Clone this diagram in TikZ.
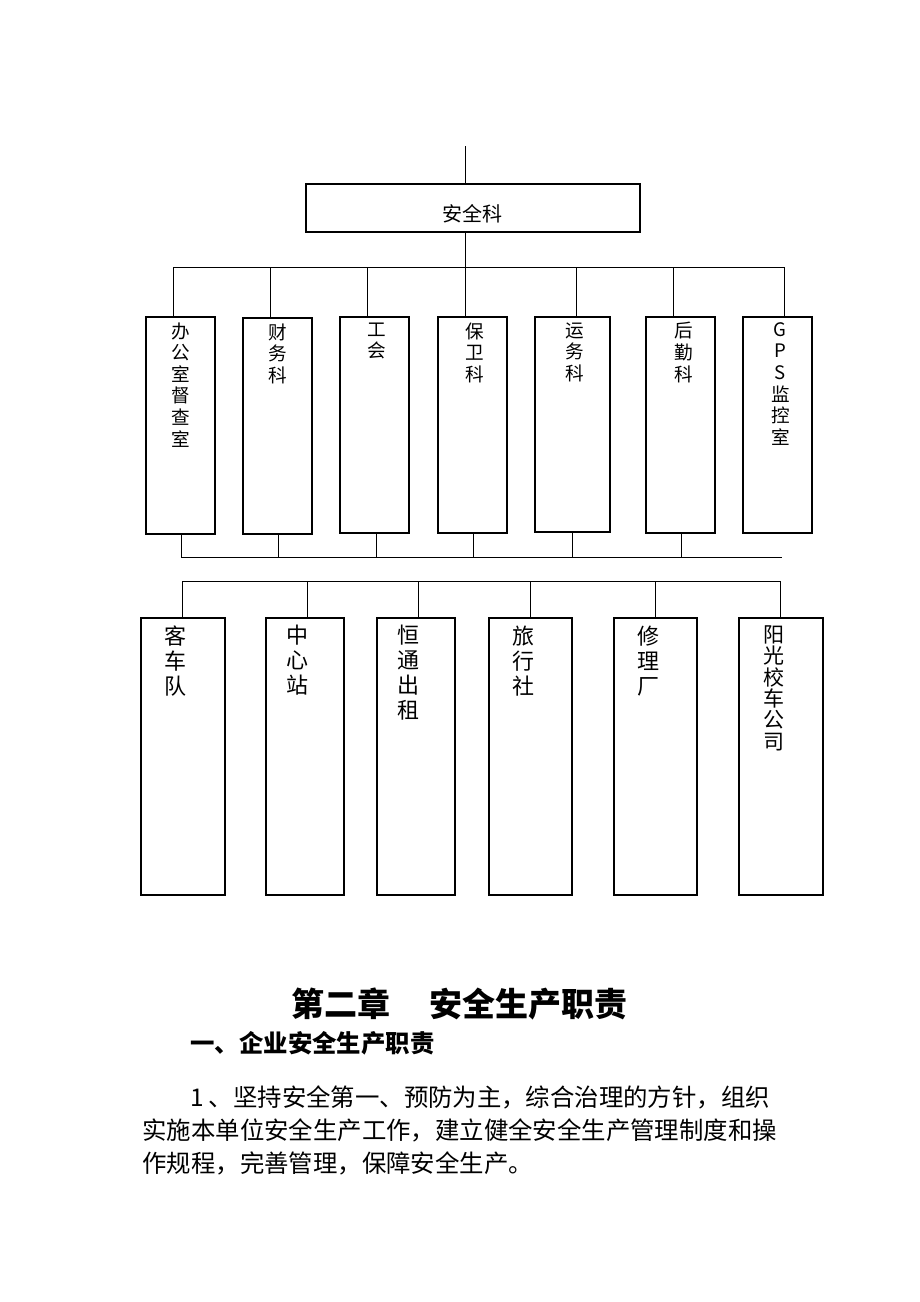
\documentclass[tikz,border=0pt]{standalone}
\usepackage{fontspec}
\setmainfont{Noto Sans CJK SC}

\begin{document}
\begin{tikzpicture}[x=0.5pt, y=-0.5pt, line width=0.5pt,
  unit/.style={draw, line width=0.8pt, anchor=north west, inner sep=0pt},
  upper/.style={unit, minimum width=34.5pt, minimum height=108pt},
  lower/.style={unit, minimum height=138.5pt},
  vtop/.style={font=\fontsize{9.3}{10.8}\selectfont, align=center, inner sep=0pt, below=3pt},
  vbot/.style={font=\fontsize{11}{12.5}\selectfont, align=center, inner sep=0pt, below=4pt, xshift=-3.5pt},
  body/.style={font=\fontsize{12.2}{15}\selectfont, anchor=west, inner sep=0pt}]
\useasboundingbox (0,0) rectangle (920,1302);

% top
\coordinate (in) at (465,146);
\node[unit, minimum width=167pt, minimum height=24pt] (aqk) at (305,183) {};
\node[font=\fontsize{10}{11}\selectfont, yshift=-3pt] at (aqk.center) {安全科};
\draw (in) -- (in |- aqk.north);

% first row of departments
\node[upper, minimum height=108.5pt] (b1) at (145,316) {};
\node[upper] (b2) at (242,317) {};
\node[upper] (b3) at (339,316) {};
\node[upper] (b4) at (437,316) {};
\node[upper, minimum width=37.5pt, minimum height=107.5pt] (b5) at (534,316) {};
\node[upper] (b6) at (645,316) {};
\node[upper] (b7) at (742,316) {};

\node[vtop] at (b1.north) {办\\公\\室\\督\\查\\室};
\node[vtop] at (b2.north) {财\\务\\科};
\node[vtop, xshift=1pt] at (b3.north) {工\\会};
\node[vtop, xshift=1pt] at (b4.north) {保\\卫\\科};
\node[vtop, xshift=1pt] at (b5.north) {运\\务\\科};
\node[vtop, xshift=1.5pt] at (b6.north) {后\\勤\\科};
\node[vtop, xshift=1.5pt] at (b7.north) {G\\P\\S\\监\\控\\室};

% bus under the top box
\coordinate (s1) at (173,267);
\coordinate (s7) at (784,267);
\draw (aqk.south -| in) -- (in |- s1);
\draw (s1) -- (s7);
\foreach \n/\x in {b1/173, b2/270, b3/367, b4/465, b5/576, b6/673, b7/784}
  \draw (\x,267) -- (\x,267 |- \n.north);

% bus under the first row
\coordinate (m1) at (181,557);
\coordinate (m2) at (782,557);
\draw (m1) -- (m2);
\foreach \n/\x in {b1/181, b2/278, b3/376, b4/473, b5/572, b6/681}
  \draw (\x,557 |- \n.south) -- (\x,557);

% second row of units
\node[lower, minimum width=42pt] (c1) at (140,617) {};
\node[lower, minimum width=39pt] (c2) at (265,617) {};
\node[lower, minimum width=39pt] (c3) at (376,617) {};
\node[lower, minimum width=41.5pt] (c4) at (488,617) {};
\node[lower, minimum width=41.5pt] (c5) at (613,617) {};
\node[lower, minimum width=42pt] (c6) at (738,617) {};

\node[vbot] at (c1.north) {客\\车\\队};
\node[vbot] at (c2.north) {中\\心\\站};
\node[vbot] at (c3.north) {恒\\通\\出\\租};
\node[vbot] at (c4.north) {旅\\行\\社};
\node[vbot] at (c5.north) {修\\理\\厂};
\node[vbot, font=\fontsize{10.5}{10.7}\selectfont] at (c6.north) {阳\\光\\校\\车\\公\\司};

\coordinate (n1) at (182,581);
\coordinate (n2) at (781,581);
\draw (n1) -- (n2);
\foreach \n/\x in {c1/182, c2/307, c3/418, c4/530, c5/655, c6/780}
  \draw (\x,581) -- (\x,581 |- \n.north);

% text below
\node[font=\fontsize{16.5}{20}\selectfont\bfseries, inner sep=0pt] (title) at (459.5,1004) {第二章\hspace{19.5pt}安全生产职责};
\node[body, font=\fontsize{12.2}{15}\selectfont\bfseries] (sec) at (190,1043) {一、企业安全生产职责};
\node[body] (l1) at (190,1097) {\makebox[0.75em][l]{1}、坚持安全第一、预防为主，综合治理的方针，组织};
\node[body] (l2) at (142,1130) {实施本单位安全生产工作，建立健全安全生产管理制度和操};
\node[body] (l3) at (142,1163) {作规程，完善管理，保障安全生产。};
\end{tikzpicture}
\end{document}
